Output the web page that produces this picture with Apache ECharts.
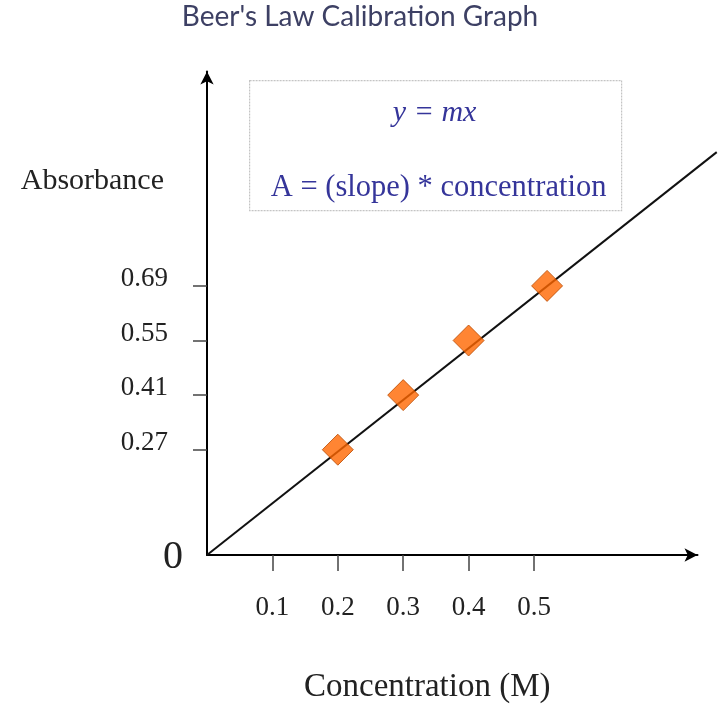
<!DOCTYPE html>
<html>
<head>
<meta charset="utf-8">
<title>Beer's Law Calibration Graph</title>
<script src="https://cdn.jsdelivr.net/npm/echarts@6/dist/echarts.min.js"></script>
<style>
    html, body { margin: 0; padding: 0; background: #fff; }
    #main { width: 720px; height: 717px; }
</style>
</head>
<body>
<div id="main"></div>
<script>
// concentration (M) vs absorbance
var concentration = [0.2, 0.3, 0.4, 0.52];
var absorbance = [0.27, 0.41, 0.55, 0.69];
// straight calibration line through the origin, end point
var lineX = [0, 0.78];
var lineY = [0, 1.033];
// tick labels
var xTicks = [0.1, 0.2, 0.3, 0.4, 0.5];
var yTicks = [0.27, 0.41, 0.55, 0.69];

function initBeerChart() {
    var chart = echarts.init(document.getElementById('main'));

    var points = concentration.map(function (c, i) { return [c, absorbance[i]]; });
    var linePts = lineX.map(function (x, i) { return [x, lineY[i]]; });

    var serif = "'Liberation Serif', 'Times New Roman', serif";
    var pxPerX = 654;   // same scale on both grids
    var pxPerY = 390;

    var option = {
        backgroundColor: '#fff',
        animation: false,
        title: {
            text: "Beer's Law Calibration Graph",
            left: 'center',
            top: -2,
            textStyle: {
                fontFamily: "'Comic Sans MS', 'Lato', sans-serif",
                fontSize: 28,
                fontWeight: 'normal',
                color: '#3d4064'
            }
        },
        grid: [
            { left: 207, top: 555 - 1.24 * pxPerY, width: 0.75 * pxPerX, height: 1.24 * pxPerY },
            // wider grid only for the fit line, which runs past the axis arrow
            { left: 207, top: 555 - 1.24 * pxPerY, width: 0.785 * pxPerX, height: 1.24 * pxPerY }
        ],
        xAxis: [{
            type: 'value',
            gridIndex: 0,
            min: 0,
            max: 0.75,
            name: 'Concentration (M)',
            nameLocation: 'middle',
            nameGap: 116,
            nameTextStyle: {
                fontFamily: serif,
                fontSize: 33,
                color: '#222',
                padding: [0, 50, 0, 0]
            },
            splitLine: { show: false },
            axisLine: {
                lineStyle: { color: '#000', width: 2 },
                symbol: ['none', 'arrow'],
                symbolSize: [10, 13]
            },
            axisTick: {
                customValues: xTicks,
                length: 16,
                lineStyle: { color: '#444', width: 1.5 }
            },
            axisLabel: {
                customValues: xTicks,
                margin: 39,
                fontFamily: serif,
                fontSize: 27,
                color: '#222'
            }
        }, {
            type: 'value',
            gridIndex: 1,
            min: 0,
            max: 0.785,
            show: false
        }],
        yAxis: [{
            type: 'value',
            gridIndex: 0,
            min: 0,
            max: 1.24,
            splitLine: { show: false },
            axisLine: {
                lineStyle: { color: '#000', width: 2 },
                symbol: ['none', 'arrow'],
                symbolSize: [10, 13]
            },
            axisTick: {
                customValues: yTicks,
                length: 14,
                lineStyle: { color: '#444', width: 1.5 }
            },
            axisLabel: {
                customValues: [0].concat(yTicks),
                margin: 24,
                formatter: function (v) {
                    return v === 0 ? '{z|0}' : '{n|' + v + '}';
                },
                rich: {
                    n: {
                        fontFamily: serif,
                        fontSize: 27,
                        color: '#222',
                        padding: [0, 15, 14, 0]
                    },
                    z: {
                        fontFamily: serif,
                        fontSize: 40,
                        color: '#222',
                        padding: [4, 0, 0, 0]
                    }
                }
            }
        }, {
            type: 'value',
            gridIndex: 1,
            min: 0,
            max: 1.24,
            show: false
        }],
        graphic: [
            {
                type: 'text',
                right: 720 - 164,
                top: 166,
                style: {
                    text: 'Absorbance',
                    fontFamily: serif,
                    fontSize: 30,
                    fill: '#222'
                }
            },
            {
                type: 'group',
                left: 249,
                top: 80,
                children: [
                    {
                        type: 'rect',
                        shape: { x: 0, y: 0, width: 372, height: 130 },
                        style: { fill: '#fff', stroke: '#c4c4c4', lineWidth: 1.2, lineDash: [2, 1] }
                    },
                    {
                        type: 'text',
                        x: 185,
                        y: 33,
                        style: {
                            text: 'y = mx',
                            align: 'center',
                            verticalAlign: 'middle',
                            fontFamily: serif,
                            fontStyle: 'italic',
                            fontSize: 30,
                            fill: '#35359a'
                        }
                    },
                    {
                        type: 'text',
                        x: 189,
                        y: 107,
                        style: {
                            text: 'A = (slope) * concentration',
                            align: 'center',
                            verticalAlign: 'middle',
                            fontFamily: serif,
                            fontSize: 30.5,
                            fill: '#35359a'
                        }
                    }
                ]
            }
        ],
        series: [
            {
                name: 'fit',
                type: 'line',
                xAxisIndex: 1,
                yAxisIndex: 1,
                data: linePts,
                showSymbol: false,
                lineStyle: { color: '#111', width: 2 },
                z: 2
            },
            {
                name: 'standards',
                type: 'scatter',
                xAxisIndex: 0,
                yAxisIndex: 0,
                data: points,
                symbol: 'diamond',
                symbolSize: [31, 31],
                itemStyle: { color: '#ff6600', borderColor: '#b84a00', borderWidth: 1 },
                z: 3
            }
        ]
    };

    chart.setOption(option);
}

initBeerChart();
</script>
</body>
</html>
